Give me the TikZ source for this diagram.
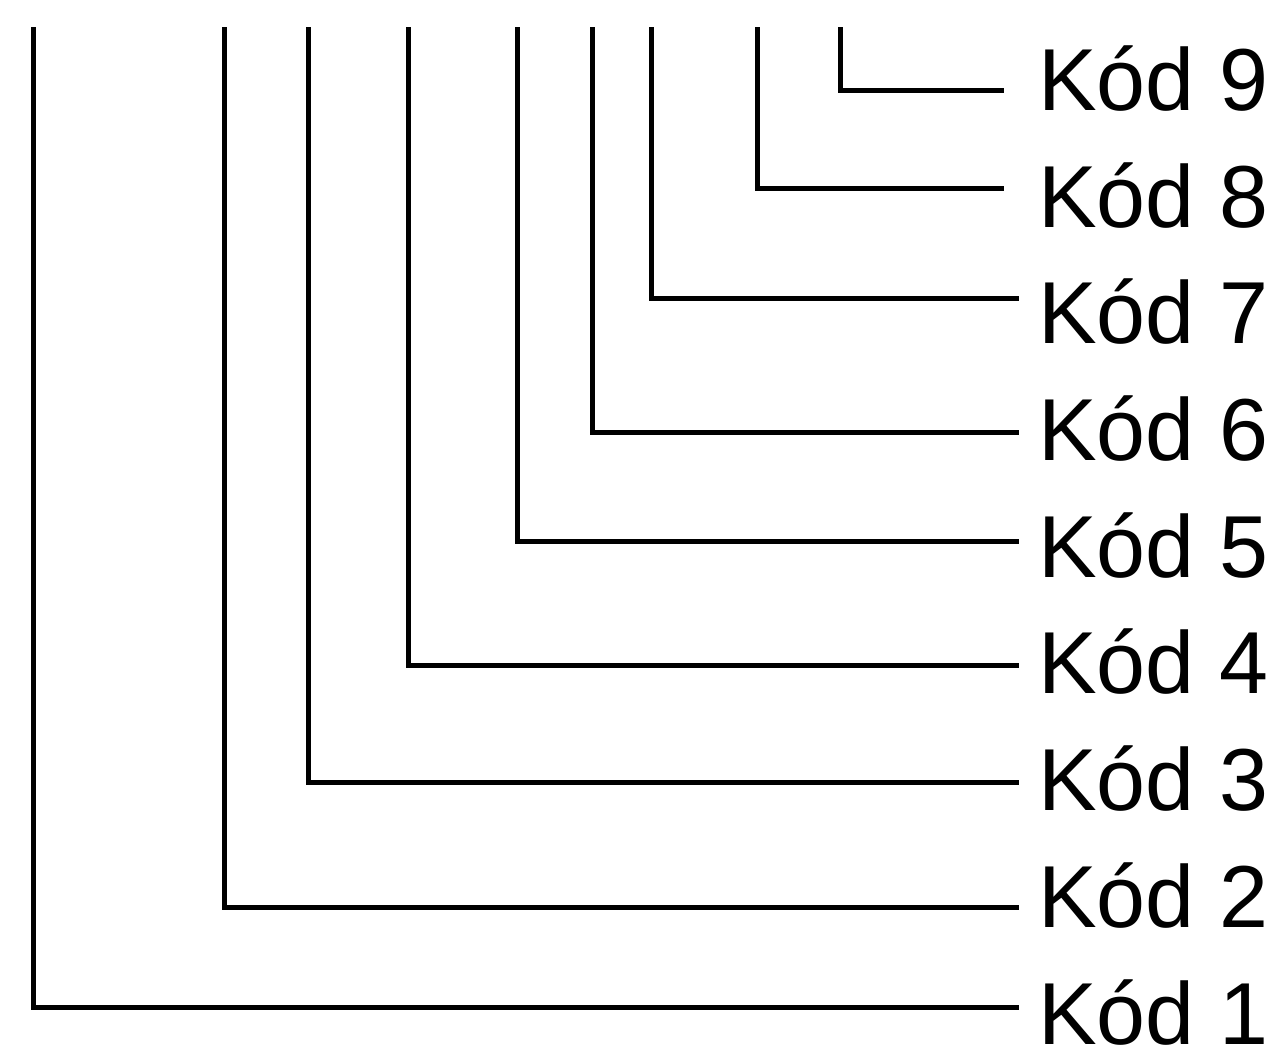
\documentclass[tikz,border=0pt]{standalone}
\usepackage{fontspec}
\setmainfont{Liberation Sans}
\begin{document}
\begin{tikzpicture}[x=1pt,y=-1pt,
  lbl/.style={anchor=base west,inner sep=0pt,font=\fontsize{88}{100}\selectfont},
  conn/.style={line width=5pt,line cap=rect,black}]
\useasboundingbox (0,0) rectangle (1282,1044);
% labels
\node[lbl] (k9) at (1038,110) {Kód 9};
\node[lbl] (k8) at (1038,227) {Kód 8};
\node[lbl] (k7) at (1038,343) {Kód 7};
\node[lbl] (k6) at (1038,460) {Kód 6};
\node[lbl] (k5) at (1038,577) {Kód 5};
\node[lbl] (k4) at (1038,693) {Kód 4};
\node[lbl] (k3) at (1038,810) {Kód 3};
\node[lbl] (k2) at (1038,927) {Kód 2};
\node[lbl] (k1) at (1038,1044) {Kód 1};
% top ends
\coordinate (t1) at (33,29);
\coordinate (t2) at (224,29);
\coordinate (t3) at (308,29);
\coordinate (t4) at (408,29);
\coordinate (t5) at (517,29);
\coordinate (t6) at (592,29);
\coordinate (t7) at (651,29);
\coordinate (t8) at (757,29);
\coordinate (t9) at (840,29);
% right ends
\coordinate (e9) at (1001,90);
\coordinate (e8) at (1001,188);
\coordinate (e7) at (1016,298);
\coordinate (e6) at (1016,432);
\coordinate (e5) at (1016,541);
\coordinate (e4) at (1016,665);
\coordinate (e3) at (1016,782);
\coordinate (e2) at (1016,907);
\coordinate (e1) at (1016,1007);
\foreach \i in {1,...,9} {\draw[conn] (t\i) |- (e\i);}
\end{tikzpicture}
\end{document}
